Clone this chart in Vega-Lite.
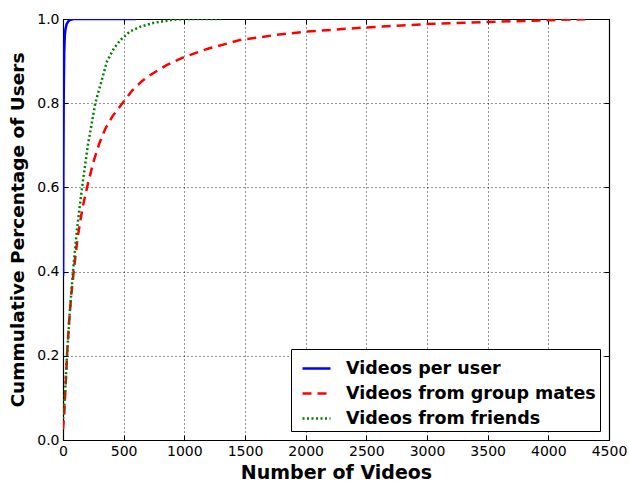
{
  "$schema": "https://vega.github.io/schema/vega-lite/v6.json",
  "autosize": {"type": "none"},
  "padding": {"left": 63, "top": 19, "right": 20, "bottom": 44},
  "width": 546,
  "height": 421,
  "background": "white",
  "config": {
    "view": {"stroke": null},
    "font": "DejaVu Sans",
    "axis": {
      "domainColor": "black", "domainWidth": 1.2,
      "tickColor": "black", "tickSize": -5, "tickWidth": 1,
      "labelFont": "DejaVu Sans", "labelFontSize": 14, "labelColor": "black",
      "titleFont": "DejaVu Sans", "titleFontSize": 18.5, "titleFontWeight": "bold", "titleColor": "black",
      "gridColor": "black", "gridDash": [1, 3], "gridOpacity": 0.85, "gridWidth": 1,
      "labelOverlap": false, "labelBound": false, "labelFlush": false,
      "zindex": 1
    },
    "legend": {
      "orient": "bottom-right", "offset": 9,
      "strokeColor": "black", "fillColor": "white", "padding": 4, "cornerRadius": 0,
      "labelFont": "DejaVu Sans", "labelFontSize": 17.5, "labelFontWeight": "bold", "labelColor": "black",
      "labelLimit": 400, "symbolType": "stroke", "symbolSize": 784, "symbolStrokeWidth": 2.5,
      "symbolOffset": 6, "rowPadding": 1, "labelOffset": 14
    }
  },
  "data": {"values": [
    {"s": "Videos per user", "x": 1, "y": 0.39},
    {"s": "Videos per user", "x": 3, "y": 0.65},
    {"s": "Videos per user", "x": 6, "y": 0.82},
    {"s": "Videos per user", "x": 10, "y": 0.92},
    {"s": "Videos per user", "x": 15, "y": 0.96},
    {"s": "Videos per user", "x": 20, "y": 0.975},
    {"s": "Videos per user", "x": 30, "y": 0.988},
    {"s": "Videos per user", "x": 45, "y": 0.995},
    {"s": "Videos per user", "x": 60, "y": 0.998},
    {"s": "Videos per user", "x": 90, "y": 1.0},
    {"s": "Videos per user", "x": 600, "y": 1.0},
    {"s": "Videos from group mates", "x": 0, "y": 0.025},
    {"s": "Videos from group mates", "x": 10, "y": 0.06},
    {"s": "Videos from group mates", "x": 20, "y": 0.12},
    {"s": "Videos from group mates", "x": 33, "y": 0.2},
    {"s": "Videos from group mates", "x": 50, "y": 0.28},
    {"s": "Videos from group mates", "x": 70, "y": 0.35},
    {"s": "Videos from group mates", "x": 88, "y": 0.4},
    {"s": "Videos from group mates", "x": 120, "y": 0.48},
    {"s": "Videos from group mates", "x": 160, "y": 0.55},
    {"s": "Videos from group mates", "x": 198, "y": 0.6},
    {"s": "Videos from group mates", "x": 250, "y": 0.66},
    {"s": "Videos from group mates", "x": 300, "y": 0.705},
    {"s": "Videos from group mates", "x": 350, "y": 0.74},
    {"s": "Videos from group mates", "x": 410, "y": 0.77},
    {"s": "Videos from group mates", "x": 490, "y": 0.8},
    {"s": "Videos from group mates", "x": 570, "y": 0.83},
    {"s": "Videos from group mates", "x": 650, "y": 0.852},
    {"s": "Videos from group mates", "x": 720, "y": 0.867},
    {"s": "Videos from group mates", "x": 850, "y": 0.89},
    {"s": "Videos from group mates", "x": 1000, "y": 0.91},
    {"s": "Videos from group mates", "x": 1200, "y": 0.93},
    {"s": "Videos from group mates", "x": 1460, "y": 0.95},
    {"s": "Videos from group mates", "x": 1750, "y": 0.962},
    {"s": "Videos from group mates", "x": 2000, "y": 0.97},
    {"s": "Videos from group mates", "x": 2500, "y": 0.98},
    {"s": "Videos from group mates", "x": 3000, "y": 0.988},
    {"s": "Videos from group mates", "x": 3500, "y": 0.993},
    {"s": "Videos from group mates", "x": 4000, "y": 0.997},
    {"s": "Videos from group mates", "x": 4350, "y": 1.0},
    {"s": "Videos from friends", "x": 0, "y": 0.05},
    {"s": "Videos from friends", "x": 10, "y": 0.08},
    {"s": "Videos from friends", "x": 20, "y": 0.13},
    {"s": "Videos from friends", "x": 33, "y": 0.2},
    {"s": "Videos from friends", "x": 55, "y": 0.3},
    {"s": "Videos from friends", "x": 82, "y": 0.4},
    {"s": "Videos from friends", "x": 115, "y": 0.5},
    {"s": "Videos from friends", "x": 157, "y": 0.6},
    {"s": "Videos from friends", "x": 205, "y": 0.7},
    {"s": "Videos from friends", "x": 266, "y": 0.8},
    {"s": "Videos from friends", "x": 305, "y": 0.84},
    {"s": "Videos from friends", "x": 363, "y": 0.9},
    {"s": "Videos from friends", "x": 420, "y": 0.93},
    {"s": "Videos from friends", "x": 473, "y": 0.95},
    {"s": "Videos from friends", "x": 550, "y": 0.97},
    {"s": "Videos from friends", "x": 640, "y": 0.982},
    {"s": "Videos from friends", "x": 750, "y": 0.991},
    {"s": "Videos from friends", "x": 900, "y": 0.998},
    {"s": "Videos from friends", "x": 1000, "y": 1.0},
    {"s": "Videos from friends", "x": 1300, "y": 1.0}
  ]},
  "resolve": {"axis": {"x": "independent", "y": "independent"}},
  "layer": [
    {
      "mark": {"type": "line", "clip": true, "strokeWidth": 2.5},
      "encoding": {
        "x": {"field": "x", "type": "quantitative",
              "scale": {"domain": [0, 4500], "nice": false},
              "axis": {"values": [0, 500, 1000, 1500, 2000, 2500, 3000, 3500, 4000, 4500], "format": "d", "title": "Number of Videos", "titleFontSize": 19, "labelPadding": 9, "titlePadding": 5, "orient": "bottom"}},
        "y": {"field": "y", "type": "quantitative",
              "scale": {"domain": [0, 1], "nice": false},
              "axis": {"values": [0, 0.2, 0.4, 0.6, 0.8, 1.0], "format": ".1f", "title": "Cummulative Percentage of Users", "labelPadding": 9, "titlePadding": 9, "orient": "left"}},
        "color": {"field": "s", "type": "nominal", "title": null,
                  "scale": {"domain": ["Videos per user", "Videos from group mates", "Videos from friends"], "range": ["#0000ff", "#ff0000", "#008000"]}},
        "strokeDash": {"field": "s", "type": "nominal", "title": null,
                  "scale": {"domain": ["Videos per user", "Videos from group mates", "Videos from friends"], "range": [[1, 0], [9, 6], [2, 2.5]]}},
        "order": {"field": "x", "type": "quantitative"}
      }
    },
    {
      "mark": {"type": "line", "opacity": 0},
      "encoding": {
        "x": {"field": "x", "type": "quantitative",
              "axis": {"values": [0, 500, 1000, 1500, 2000, 2500, 3000, 3500, 4000, 4500], "labels": false, "title": null, "grid": false, "orient": "top"}},
        "y": {"field": "y", "type": "quantitative",
              "axis": {"values": [0, 0.2, 0.4, 0.6, 0.8, 1.0], "labels": false, "title": null, "grid": false, "orient": "right"}},
        "detail": {"field": "s", "type": "nominal"}
      }
    }
  ]
}
